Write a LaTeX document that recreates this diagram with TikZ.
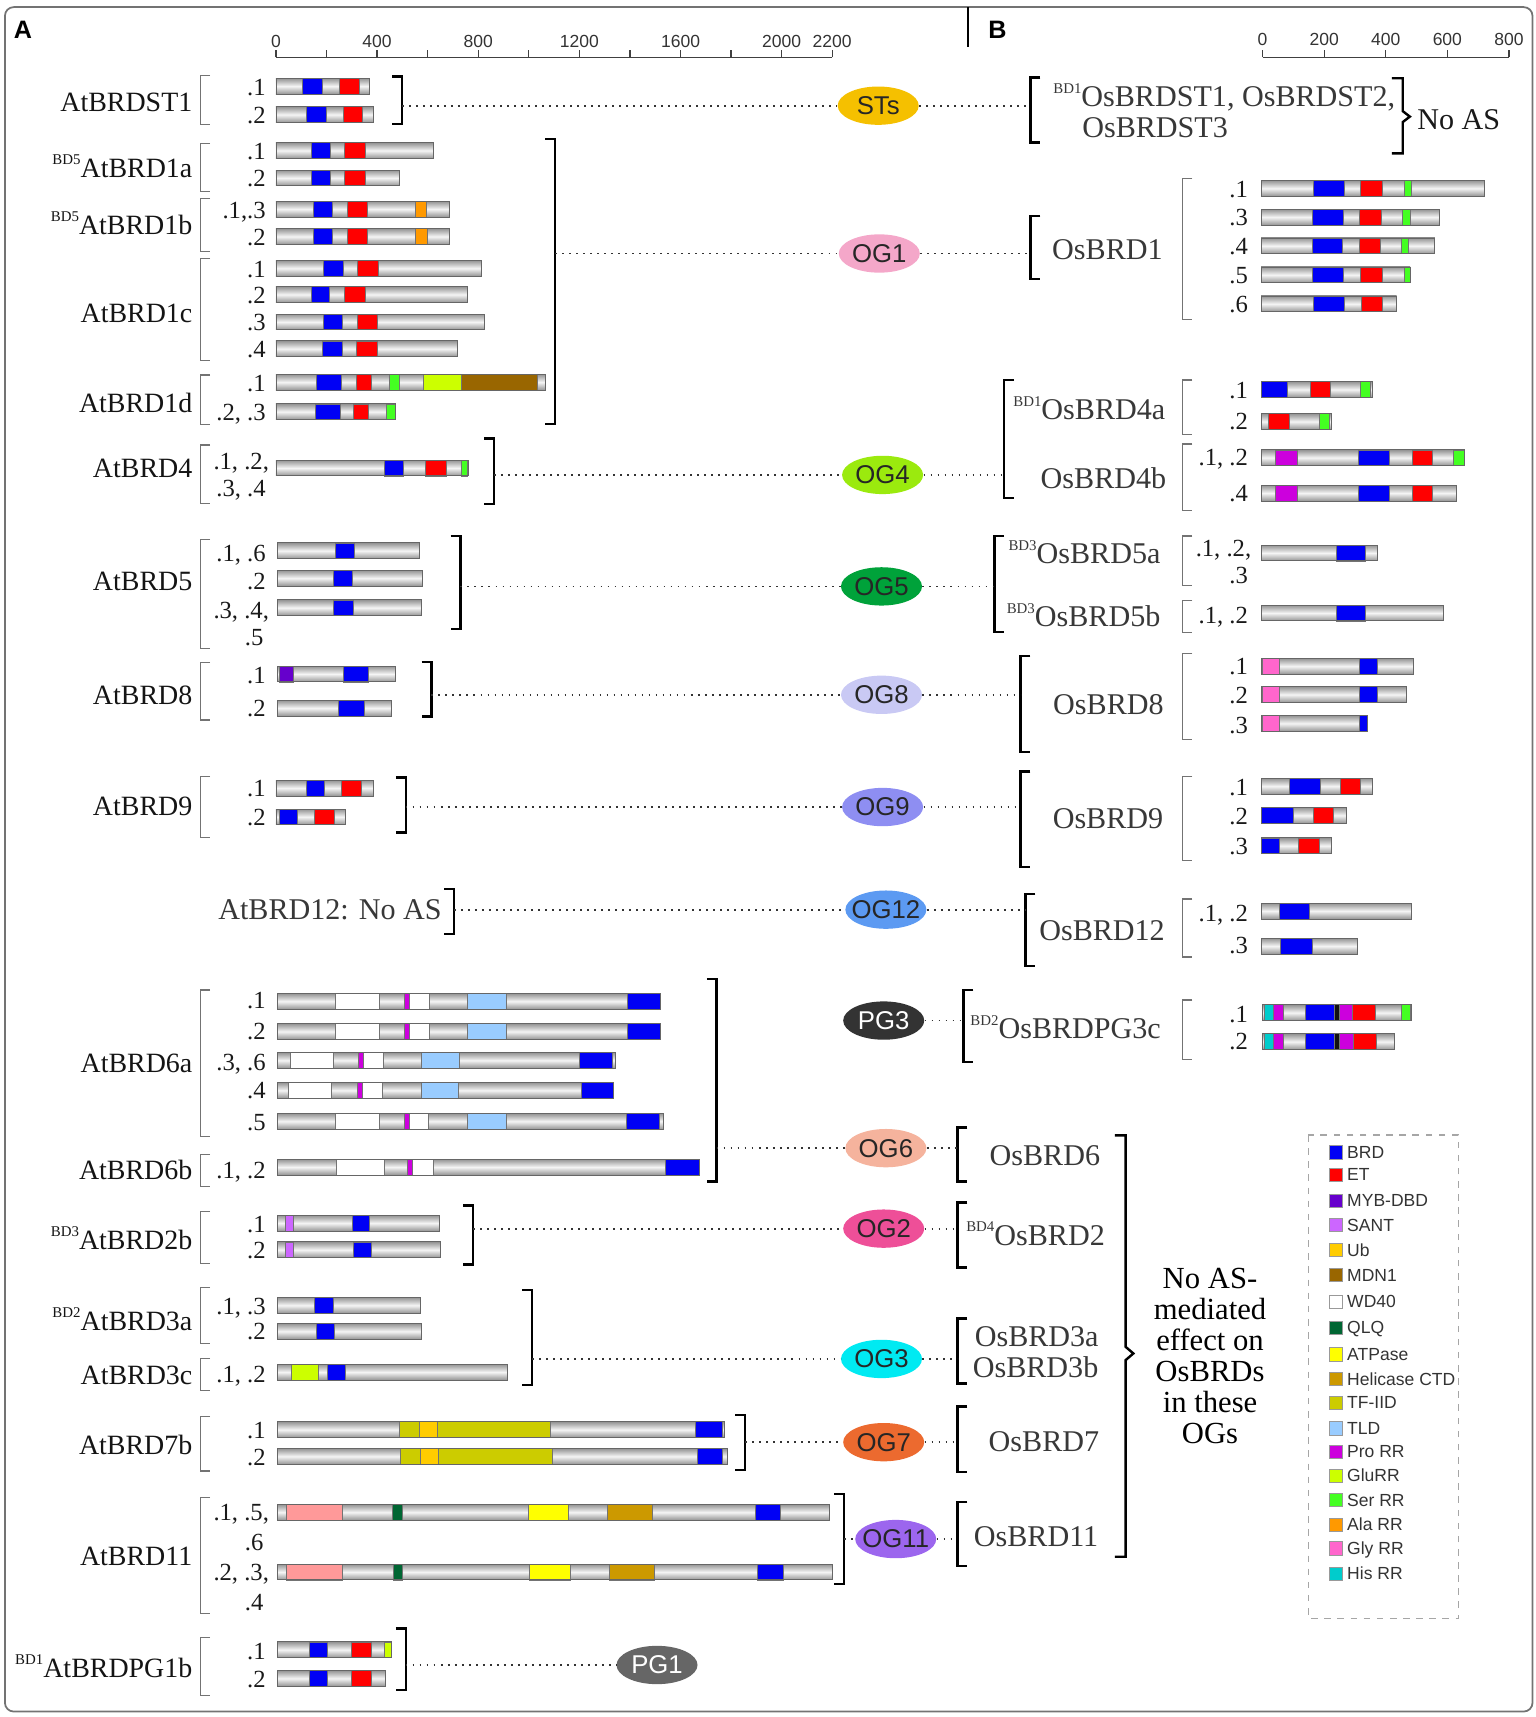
\documentclass[tikz,border=0pt]{standalone}
\usepackage{fontspec}
\setmainfont{Liberation Serif}
\newfontfamily\arialf{Liberation Sans}
\usetikzlibrary{shapes.geometric}
\definecolor{cbrd}{HTML}{0000F5}
\definecolor{cet}{HTML}{FF0000}
\definecolor{cmyb}{HTML}{6600CC}
\definecolor{csant}{HTML}{CC66FF}
\definecolor{cub}{HTML}{FFCC00}
\definecolor{cmdn}{HTML}{996600}
\definecolor{cwd}{HTML}{FFFFFF}
\definecolor{cqlq}{HTML}{006633}
\definecolor{catp}{HTML}{FFFF00}
\definecolor{chel}{HTML}{CC9900}
\definecolor{ctf}{HTML}{CCCC00}
\definecolor{ctld}{HTML}{99CCFF}
\definecolor{cpro}{HTML}{CC00DD}
\definecolor{cglu}{HTML}{CCFF00}
\definecolor{cser}{HTML}{44FF22}
\definecolor{cala}{HTML}{FF9900}
\definecolor{cgly}{HTML}{FF66CC}
\definecolor{chis}{HTML}{00CCCC}
\definecolor{csal}{HTML}{FF9999}
\definecolor{cblk}{HTML}{111111}
\newcounter{nd}
\newcommand\bdsup[1]{{\fontsize{6.8}{7}\selectfont\raisebox{6pt}{#1}}}
\newcommand\pbar[4]{%
  \shade[top color=black!42, bottom color=black!42, middle color=black!4] (#2,#1-7.2) rectangle (#3,#1+7.2);
  \foreach \xa/\xb/\xc in {#4}{\filldraw[fill=\xc, draw=black!55, line width=0.3pt] (\xa,#1-7.2) rectangle (\xb,#1+7.2);}
  \draw[black!60, line width=0.4pt] (#2,#1-7.2) rectangle (#3,#1+7.2);}
\newcommand\iso[3]{\stepcounter{nd}\node[isot, anchor=base east] (iso\arabic{nd}) at (#1,#2+7.6) {#3};}
\newcommand\lab[2]{\stepcounter{nd}\node[labl, anchor=base east] (lab\arabic{nd}) at (176,#1+8.4) {#2};}
\newcommand\rlab[3]{\stepcounter{nd}\node[labr, anchor=base west] (rlab\arabic{nd}) at (#1,#2+9.1) {#3};}
\newcommand\gbk[3]{\draw[gbr] (#1+9,#2) -| (#1,#3) -- (#1+9,#3);}
\newcommand\bbk[3]{\draw[bbr] (#1+9,#2) -| (#1,#3) -- (#1+9,#3);}
\newcommand\rbk[3]{\draw[bbr] (#1-9,#2) -| (#1,#3) -- (#1-9,#3);}
\tikzset{
  isot/.style={inner sep=0pt, font=\fontsize{11.25}{12}\selectfont, text=black!90},
  labl/.style={inner sep=0pt, font=\fontsize{12.75}{14}\selectfont, text=black!92},
  labr/.style={inner sep=0pt, font=\fontsize{13.75}{15}\selectfont, text=black!78},
  gbr/.style={black!55, line width=0.55pt},
  bbr/.style={black, line width=1.1pt},
  dotline/.style={black!80, line width=0.8pt, dash pattern=on 0.8pt off 2.4pt},
  oval/.style={ellipse, minimum width=37pt, minimum height=17.5pt, inner sep=0pt},
  ovtxt/.style={font=\arialf\fontsize{11.75}{12}\selectfont, text=black!85, inner sep=0pt},
  ovtxtw/.style={font=\arialf\fontsize{11.75}{12}\selectfont, text=white, inner sep=0pt},
  legt/.style={font=\arialf\fontsize{8}{9}\selectfont, text=black!80, inner sep=0pt},
  sclt/.style={font=\arialf\fontsize{8}{9}\selectfont, text=black!80, inner sep=0pt},
}
\begin{document}
\begin{tikzpicture}[x=0.5pt, y=-0.5pt]
\useasboundingbox (0,0) rectangle (1402,1568);
\draw[black!55, line width=0.8pt, rounded corners=4pt] (4.5,6.5) rectangle (1399.5,1563);
\draw[black, line width=1pt] (884,6.5) -- (884,43);
\node[font=\arialf\bfseries\fontsize{11.5}{12}\selectfont, inner sep=0pt] (pA) at (21,27) {A};
\node[font=\arialf\bfseries\fontsize{11.5}{12}\selectfont, inner sep=0pt] (pB) at (911,27) {B};
% scale A
\draw[black!75, line width=0.6pt] (252,52.5) -- (760,52.5);
\foreach \t in {0,200,...,2200}{\draw[black!75, line width=0.6pt] (252+\t*0.23091,52.5) -- (252+\t*0.23091,46);}
\foreach \t in {0,400,800,1200,1600,2000,2200}{\node[sclt, anchor=base] (sa\t) at (252+\t*0.23091,43) {\t};}
% scale B
\draw[black!75, line width=0.6pt] (1153,52.5) -- (1378,52.5);
\foreach \t in {0,200,...,800}{\draw[black!75, line width=0.6pt] (1153+\t*0.28125,52.5) -- (1153+\t*0.28125,46);
  \node[sclt, anchor=base] (sb\t) at (1153+\t*0.28125,42) {\t};}

% ---------- left bars
\pbar{78.7}{252}{337}{276/294.5/cbrd,310/328/cet}
\pbar{104.7}{252}{341}{280/298/cbrd,313.6/331/cet}
\pbar{137.5}{252}{395.5}{284.5/302/cbrd,314.5/334/cet}
\pbar{162.5}{252}{364.5}{284.5/302/cbrd,314.5/334/cet}
\pbar{191}{252}{410.5}{286/303.6/cbrd,317/335.5/cet,379.5/389.5/cala}
\pbar{216}{252}{410.5}{286/303.6/cbrd,317/335.5/cet,379.5/390/cala}
\pbar{245}{252}{440}{295.5/313.6/cbrd,326/345.5/cet}
\pbar{269}{252}{427}{284/301/cbrd,314.5/334/cet}
\pbar{294}{252}{442}{295.5/312.7/cbrd,326/344.5/cet}
\pbar{318.5}{252}{418}{294.5/312.7/cbrd,325.5/344.5/cet}
\pbar{349}{252}{498}{288.6/311.8/cbrd,325/339/cet,355.5/364.5/cser,387/421/cglu,421/491/cmdn}
\pbar{376}{252}{361}{287.7/311/cbrd,322.7/336.8/cet,353/361/cser}
\pbar{427.4}{252}{428}{351/368/cbrd,388.6/408/cet,421/426.4/cser}
\pbar{503}{253}{383}{306/324/cbrd}
\pbar{528}{253}{386}{304.5/322/cbrd}
\pbar{555}{253}{384.5}{304.5/322.5/cbrd}
\pbar{615.5}{253}{361}{255.5/268/cmyb,313.6/336.4/cbrd}
\pbar{646.7}{253}{357.7}{309/333/cbrd}
\pbar{719.7}{252}{341}{280/296/cbrd,312/330/cet}
\pbar{746}{252}{315.5}{255.5/271.4/cbrd,287/305/cet}
\pbar{914.4}{253}{603}{306/346.4/cwd,369/373.6/cpro,373.6/392/cwd,427/462/ctld,572.7/603/cbrd}
\pbar{942}{253}{603}{306/346.4/cwd,369/373.6/cpro,373.6/392/cwd,427/462/ctld,572.7/603/cbrd}
\pbar{968.3}{253}{562}{265/304.5/cwd,327/332/cpro,332/350/cwd,385/419.5/ctld,529.5/559/cbrd}
\pbar{995.7}{253}{560.5}{263.6/303/cwd,326.4/331/cpro,331/349/cwd,384.5/419/ctld,531/560.5/cbrd}
\pbar{1024}{253}{605.5}{306/346.4/cwd,369/373.6/cpro,373.6/391/cwd,427/462/ctld,572/602/cbrd}
\pbar{1065.8}{253}{638.6}{307/351/cwd,372/376.4/cpro,376.4/395.5/cwd,608/638.6/cbrd}
\pbar{1117}{253}{401.4}{260.5/268/csant,322/337.7/cbrd}
\pbar{1141.3}{253}{402.3}{260.5/268/csant,322.7/339.5/cbrd}
\pbar{1192}{253}{384}{287/304.5/cbrd}
\pbar{1215.8}{253}{385}{288.6/305.5/cbrd}
\pbar{1253}{253}{463.6}{266/291/cglu,298.6/315.5/cbrd}
\pbar{1305.6}{253}{662}{365/503/ctf,383/399/cub,635/660/cbrd}
\pbar{1330}{253}{664.5}{366/504.5/ctf,384/400/cub,636.4/660/cbrd}
\pbar{1381}{253}{757.5}{261.4/312.7/csal,358/367/cqlq,482.7/519/catp,554.5/595.5/chel,690/713/cbrd}
\pbar{1435.6}{253}{760}{261.4/312.7/csal,359/367/cqlq,483/520.5/catp,556/597.7/chel,692/715.4/cbrd}
\pbar{1506.6}{253}{357.7}{282.7/298.6/cbrd,321/339/cet,351.4/357.7/cglu}
\pbar{1532.7}{253}{352}{282.7/298.6/cbrd,321/339/cet}

% ---------- right bars
\pbar{172}{1151.7}{1355.6}{1199/1227.5/cbrd,1242.4/1262.8/cet,1282/1288.5/cser}
\pbar{198.3}{1151.7}{1314.8}{1198.4/1226.5/cbrd,1241.5/1261.4/cet,1281/1287.7/cser}
\pbar{224.5}{1151.7}{1310.3}{1198.4/1225.6/cbrd,1241/1260.5/cet,1279.5/1286/cser}
\pbar{251}{1151.7}{1287.7}{1198.4/1226.5/cbrd,1242.4/1262/cet,1282/1287.7/cser}
\pbar{277.5}{1151.7}{1275.5}{1199/1228/cbrd,1243/1262.8/cet}
\pbar{355.7}{1151.7}{1253.7}{1151.7/1175.8/cbrd,1197/1215/cet,1242.4/1251.5/cser}
\pbar{385}{1151.7}{1216}{1158.5/1177/cet,1204.8/1214.3/cser}
\pbar{418}{1151.7}{1337.5}{1164.4/1184.8/cpro,1240/1268.6/cbrd,1290/1308/cet,1327.5/1337.5/cser}
\pbar{450.3}{1151.7}{1329.8}{1164.4/1184.8/cpro,1240.5/1268.6/cbrd,1290/1308/cet}
\pbar{505}{1151.7}{1258}{1220.6/1246.9/cbrd}
\pbar{559.8}{1151.7}{1318.5}{1220.6/1246.9/cbrd}
\pbar{608.4}{1151.7}{1291}{1153/1168/cgly,1241/1258/cbrd}
\pbar{634.3}{1151.7}{1284}{1153/1168/cgly,1241/1258/cbrd}
\pbar{660.6}{1151.7}{1249}{1153/1168/cgly,1241.5/1249/cbrd}
\pbar{718}{1151.7}{1253.7}{1177/1206/cbrd,1224/1242/cet}
\pbar{744.6}{1151.7}{1229.6}{1151.7/1181/cbrd,1199/1218/cet}
\pbar{772.4}{1151.7}{1216}{1151.7/1168.5/cbrd,1186/1205/cet}
\pbar{832}{1151.7}{1288.6}{1168.5/1196/cbrd}
\pbar{864}{1151.7}{1240}{1169/1198/cbrd}
\pbar{924.8}{1152.6}{1289}{1155/1163/chis,1163/1172/cpro,1191.6/1218.8/cbrd,1218.8/1223.3/cblk,1223.3/1234.6/cpro,1234.6/1256/cet,1280/1287.7/cser}
\pbar{951.3}{1152.6}{1273}{1155/1163/chis,1163/1172/cpro,1191.6/1218.8/cbrd,1218.8/1223.3/cblk,1223.3/1235.5/cpro,1235.5/1257.3/cet}

% ---------- left isoform labels
\iso{243}{79.5}{.1}\iso{243}{105}{.2}
\iso{243}{138}{.1}\iso{243}{163}{.2}
\iso{243}{191.5}{.1,.3}\iso{243}{216.5}{.2}
\iso{243}{245.5}{.1}\iso{243}{269.5}{.2}\iso{243}{294.5}{.3}\iso{243}{319}{.4}
\iso{243}{349.5}{.1}\iso{243}{376.5}{.2, .3}
\iso{246}{421.6}{.1, .2,}\iso{243}{446}{.3, .4}
\iso{243}{505}{.1, .6}\iso{243}{531}{.2}\iso{246}{557}{.3, .4,}\iso{241}{581.5}{.5}
\iso{243}{616.5}{.1}\iso{243}{647}{.2}
\iso{243}{720}{.1}\iso{243}{746.5}{.2}
\iso{243}{913}{.1}\iso{243}{942}{.2}\iso{243}{969.6}{.3, .6}\iso{243}{995.4}{.4}\iso{243}{1024.4}{.5}
\iso{243}{1068.5}{.1, .2}
\iso{243}{1118}{.1}\iso{243}{1142}{.2}
\iso{243}{1193}{.1, .3}\iso{243}{1216}{.2}
\iso{243}{1255}{.1, .2}
\iso{243}{1306}{.1}\iso{243}{1331}{.2}
\iso{246}{1380.5}{.1, .5,}\iso{241}{1408}{.6}\iso{246}{1435.3}{.2, .3,}\iso{241}{1462.7}{.4}
\iso{243}{1507.5}{.1}\iso{243}{1533}{.2}

% ---------- right isoform labels
\iso{1140}{172.5}{.1}\iso{1140}{198.5}{.3}\iso{1140}{225}{.4}\iso{1140}{251.5}{.5}\iso{1140}{278}{.6}
\iso{1140}{356}{.1}\iso{1140}{385}{.2}
\iso{1140}{417.7}{.1, .2}\iso{1140}{450.5}{.4}
\iso{1143}{500.8}{.1, .2,}\iso{1140}{525}{.3}
\iso{1140}{561.6}{.1, .2}
\iso{1140}{608.8}{.1}\iso{1140}{634.7}{.2}\iso{1140}{662}{.3}
\iso{1140}{718.5}{.1}\iso{1140}{745}{.2}\iso{1140}{773}{.3}
\iso{1140}{834}{.1, .2}\iso{1140}{863}{.3}
\iso{1140}{926}{.1}\iso{1140}{951}{.2}

% ---------- left protein labels
\lab{93}{AtBRDST1}
\lab{154}{\bdsup{BD5}AtBRD1a}
\lab{205.5}{\bdsup{BD5}AtBRD1b}
\lab{286}{AtBRD1c}
\lab{368}{AtBRD1d}
\lab{427.7}{AtBRD4}
\lab{531}{AtBRD5}
\lab{634.7}{AtBRD8}
\lab{736.7}{AtBRD9}
\lab{971}{AtBRD6a}
\lab{1068.5}{AtBRD6b}
\lab{1132.4}{\bdsup{BD3}AtBRD2b}
\lab{1207}{\bdsup{BD2}AtBRD3a}
\lab{1255.7}{AtBRD3c}
\lab{1319.6}{AtBRD7b}
\lab{1421.6}{AtBRD11}
\lab{1523.6}{\bdsup{BD1}AtBRDPG1b}
\node[labr, anchor=base west] (at12) at (199,840.1) {AtBRD12: No AS};

% ---------- right protein labels
\node[labr, anchor=base west] (ost12) at (961.5,97.5) {\bdsup{BD1}OsBRDST1, OsBRDST2,};
\node[labr, anchor=base west] (ost3) at (988,126) {OsBRDST3};
\node[labr, anchor=base west, text=black!90] (noas) at (1294,118.7) {No AS};
\rlab{960.5}{227.7}{OsBRD1}
\rlab{925}{374}{\bdsup{BD1}OsBRD4a}
\rlab{950}{437}{OsBRD4b}
\rlab{920.6}{505.3}{\bdsup{BD3}OsBRD5a}
\rlab{919}{563}{\bdsup{BD3}OsBRD5b}
\rlab{961.4}{643}{OsBRD8}
\rlab{961}{747.3}{OsBRD9}
\rlab{948.7}{850}{OsBRD12}
\rlab{885.8}{939}{\bdsup{BD2}OsBRDPG3c}
\rlab{903.4}{1054.8}{OsBRD6}
\rlab{882}{1127.9}{\bdsup{BD4}OsBRD2}
\rlab{889.8}{1220.7}{OsBRD3a}
\rlab{888}{1248.7}{OsBRD3b}
\rlab{902.5}{1316.6}{OsBRD7}
\rlab{889}{1403.4}{OsBRD11}
\foreach \tx [count=\i] in {No AS-,mediated,effect on,OsBRDs,in these,OGs}
  {\node[inner sep=0pt, font=\fontsize{14}{15}\selectfont, anchor=base] (na\i) at (1105,1176.7+28.3*\i-28.3) {\tx};}

% ---------- gray brackets
\gbk{183}{69}{114}\gbk{183}{131}{175}\gbk{183}{181}{230}\gbk{183}{236}{329}\gbk{183}{342.5}{388}
\gbk{183}{406.4}{460}\gbk{183}{493}{592}\gbk{183}{605}{657.5}\gbk{183}{709.3}{764.7}
\gbk{183}{904}{1038}\gbk{183}{1054}{1083.7}\gbk{183}{1106.6}{1153.7}\gbk{183}{1176}{1226.8}
\gbk{183}{1240.5}{1270}\gbk{183}{1293.8}{1343.4}\gbk{183}{1367.4}{1473.4}\gbk{183}{1495.6}{1548}
\gbk{1080}{163}{291.6}\gbk{1080}{347}{397}\gbk{1080}{405.5}{466}\gbk{1080}{489.5}{535}
\gbk{1080}{548.6}{577.8}\gbk{1080}{597}{675}\gbk{1080}{709}{786}\gbk{1080}{821}{874}\gbk{1080}{913.3}{967.5}

% ---------- black brackets (left panel)
\rbk{367}{70}{113}\rbk{507}{127}{387}\rbk{451}{400.3}{460.3}\rbk{420.5}{489.5}{574.5}
\rbk{394}{604.3}{654.5}\rbk{370.5}{710}{760.4}\rbk{414.5}{812}{853}\rbk{654.5}{894}{1079}
\rbk{432}{1101}{1154.6}\rbk{486}{1178}{1264.8}\rbk{680.5}{1292}{1342.5}\rbk{771}{1364.4}{1446.6}
\rbk{370.5}{1487}{1543.4}
% ---------- black brackets (right panel)
\bbk{941}{70.6}{130}\bbk{941}{197}{255}\bbk{917}{347}{455}\bbk{908}{489.5}{577}
\bbk{932}{599}{686.5}\bbk{932}{704.7}{792}\bbk{936.5}{816.4}{882}\bbk{880}{904}{969.6}
\bbk{874.4}{1029.8}{1079}\bbk{874.4}{1098.3}{1157.4}\bbk{874.4}{1204}{1263.4}
\bbk{874.4}{1284.6}{1344}\bbk{874.4}{1371.4}{1430.2}
\draw[bbr] (1271,71.5) -- (1281,71.5) -- (1281,101.5) -- (1287.5,106.5) -- (1281,111.5) -- (1281,140) -- (1271,140);
\draw[bbr] (1018,1036.8) -- (1028,1036.8) -- (1028,1230) -- (1035,1236) -- (1028,1242) -- (1028,1421.6) -- (1018,1421.6);

% ---------- ovals
\node[oval, fill={rgb,255:red,245;green,192;blue,0}, label={[ovtxt]center:STs}] (st) at (802,96.5) {};
\node[oval, fill={rgb,255:red,244;green,167;blue,201}, label={[ovtxt]center:OG1}] (og1) at (803,231.5) {};
\node[oval, fill={rgb,255:red,155;green,234;blue,14}, label={[ovtxt]center:OG4}] (og4) at (806,433.7) {};
\node[oval, fill={rgb,255:red,0;green,162;blue,58}, label={[ovtxt]center:OG5}] (og5) at (805,535.5) {};
\node[oval, fill={rgb,255:red,201;green,201;blue,244}, label={[ovtxt]center:OG8}] (og8) at (805,634.5) {};
\node[oval, fill={rgb,255:red,142;green,142;blue,242}, label={[ovtxt]center:OG9}] (og9) at (806,737) {};
\node[oval, fill={rgb,255:red,92;green,154;blue,242}, label={[ovtxt]center:OG12}] (og12) at (809,830.7) {};
\node[oval, fill={rgb,255:red,51;green,51;blue,51}, label={[ovtxtw]center:PG3}] (pg3) at (807,932) {};
\node[oval, fill={rgb,255:red,245;green,179;blue,157}, label={[ovtxt]center:OG6}] (og6) at (809,1048.5) {};
\node[oval, fill={rgb,255:red,238;green,79;blue,152}, label={[ovtxt]center:OG2}] (og2) at (807,1122) {};
\node[oval, fill={rgb,255:red,0;green,234;blue,242}, label={[ovtxt]center:OG3}] (og3) at (805,1241) {};
\node[oval, fill={rgb,255:red,236;green,106;blue,47}, label={[ovtxt]center:OG7}] (og7) at (807,1317) {};
\node[oval, fill={rgb,255:red,156;green,102;blue,238}, label={[ovtxt]center:OG11}] (og11) at (818,1405.5) {};
\node[oval, fill={rgb,255:red,102;green,102;blue,102}, label={[ovtxtw]center:PG1}] (pg1) at (600,1520.5) {};

% ---------- connectors
\coordinate (lst) at (367,96.5);    \coordinate (rst) at (941,96.5);
\coordinate (log1) at (507,231.5);  \coordinate (rog1) at (941,231.5);
\coordinate (log4) at (451,433.7);  \coordinate (rog4) at (917,433.7);
\coordinate (log5) at (420.5,535.5);\coordinate (rog5) at (908,535.5);
\coordinate (log8) at (394,634.5);  \coordinate (rog8) at (932,634.5);
\coordinate (log9) at (370.5,737);  \coordinate (rog9) at (932,737);
\coordinate (log12) at (414.5,830.7);\coordinate (rog12) at (936.5,830.7);
\coordinate (rpg3) at (880,932);
\coordinate (log6) at (654.5,1048.5);\coordinate (rog6) at (874.4,1048.5);
\coordinate (log2) at (432,1122);   \coordinate (rog2) at (874.4,1122);
\coordinate (log3) at (486,1241);   \coordinate (rog3) at (874.4,1241);
\coordinate (log7) at (680.5,1317); \coordinate (rog7) at (874.4,1317);
\coordinate (log11) at (771,1405.5);\coordinate (rog11) at (874.4,1405.5);
\coordinate (lpg1) at (370.5,1520.5);
\foreach \o in {st,og1,og4,og5,og8,og9,og12,og6,og2,og3,og7,og11}
  {\draw[dotline] (l\o) -- (\o); \draw[dotline] (\o) -- (r\o);}
\draw[dotline] (pg3) -- (rpg3);
\draw[dotline] (lpg1) -- (pg1);

% ---------- legend
\draw[black!35, dashed, line width=0.5pt] (1194.8,1036.5) rectangle (1331.8,1478);
\foreach \nme/\col/\yy in {BRD/cbrd/1052.3, ET/cet/1073, MYB-DBD/cmyb/1096.5, SANT/csant/1118.7, Ub/cub/1141.5, MDN1/cmdn/1164.4, WD40/cwd/1188.7, QLQ/cqlq/1212.2, ATPase/catp/1236.8, Helicase CTD/chel/1259.3, TF-IID/ctf/1281, TLD/ctld/1304.4, Pro RR/cpro/1325.7, GluRR/cglu/1347.7, Ser RR/cser/1370, Ala RR/cala/1392.2, Gly RR/cgly/1414, His RR/chis/1437}
  {\filldraw[fill=\col, draw=black!40, line width=0.3pt] (1214,\yy-6) rectangle (1226,\yy+6);
   \node[legt, anchor=base west] (lg\col) at (1229.9,\yy+5.5) {\nme};}
\end{tikzpicture}
\end{document}
